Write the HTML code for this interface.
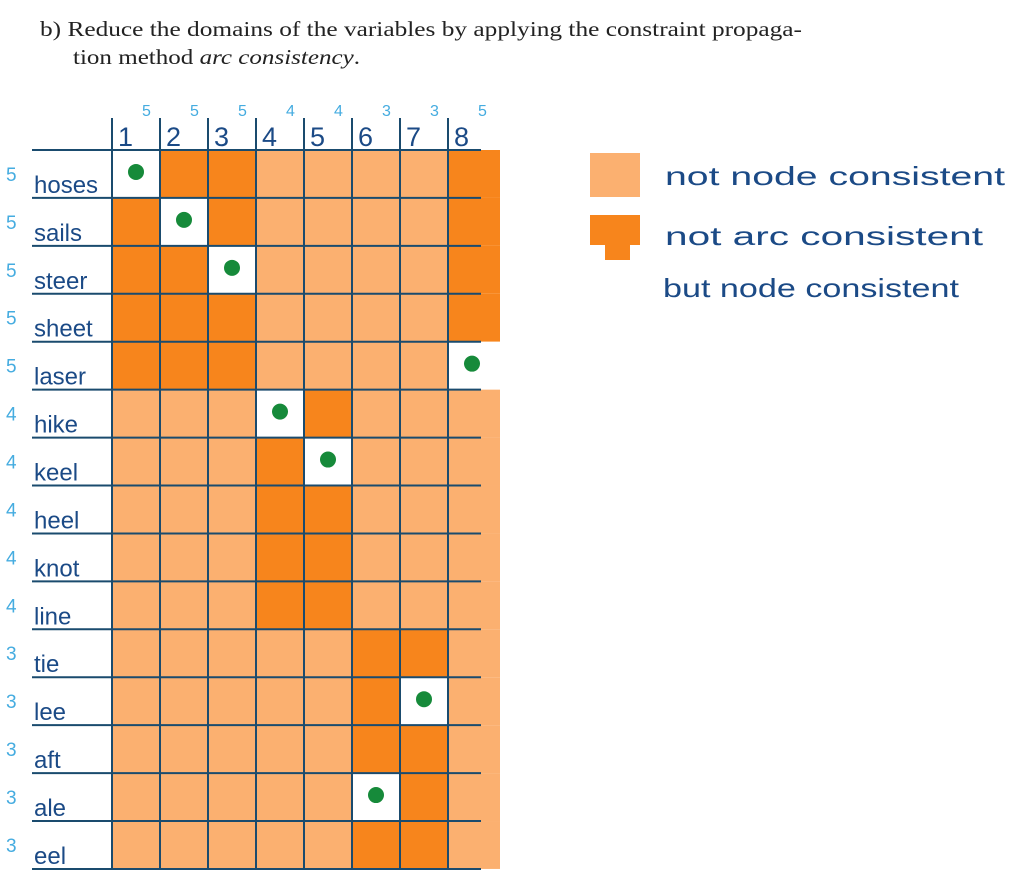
<!DOCTYPE html>
<html><head><meta charset="utf-8"><style>
html,body{margin:0;padding:0;background:#fff;}
svg{display:block;}
</style></head><body>
<svg id="chart" width="1013" height="887" viewBox="0 0 1013 887" xmlns="http://www.w3.org/2000/svg">
<text x="40" y="36" font-family="Liberation Serif, serif" font-size="21" fill="#222" textLength="762" lengthAdjust="spacingAndGlyphs">b) Reduce the domains of the variables by applying the constraint propaga-</text>
<text x="73" y="64" font-family="Liberation Serif, serif" font-size="21" fill="#222" textLength="287" lengthAdjust="spacingAndGlyphs">tion method <tspan font-style="italic">arc consistency</tspan>.</text>
<g id="grid"></g>
<g>
<rect x="590" y="153" width="50" height="44" fill="#fbb070"/>
<rect x="590" y="215" width="50" height="30" fill="#f7851c"/>
<rect x="605" y="240" width="25" height="20" fill="#f7851c"/>
<text x="665" y="185" font-family="Liberation Sans, sans-serif" font-size="26" fill="#1b4a86" textLength="340" lengthAdjust="spacingAndGlyphs">not  node    consistent</text>
<text x="665" y="245" font-family="Liberation Sans, sans-serif" font-size="26" fill="#1b4a86" textLength="318" lengthAdjust="spacingAndGlyphs">not   arc     consistent</text>
<text x="663" y="297" font-family="Liberation Sans, sans-serif" font-size="26" fill="#1b4a86" textLength="296" lengthAdjust="spacingAndGlyphs">but  node  consistent</text>
</g>
</svg>
<script>
const variables = ["hoses","sails","steer","sheet","laser","hike","keel","heel","knot","line","tie","lee","aft","ale","eel"];
const varSizes = [5,5,5,5,5,4,4,4,4,4,3,3,3,3,3];
const columns = ["1","2","3","4","5","6","7","8"];
const colSizes = [5,5,5,4,4,3,3,5];
// 0 = not node consistent, 1 = not arc consistent, 2 = solution (dot)
const states = [
 [2,1,1,0,0,0,0,1],
 [1,2,1,0,0,0,0,1],
 [1,1,2,0,0,0,0,1],
 [1,1,1,0,0,0,0,1],
 [1,1,1,0,0,0,0,2],
 [0,0,0,2,1,0,0,0],
 [0,0,0,1,2,0,0,0],
 [0,0,0,1,1,0,0,0],
 [0,0,0,1,1,0,0,0],
 [0,0,0,1,1,0,0,0],
 [0,0,0,0,0,1,1,0],
 [0,0,0,0,0,1,2,0],
 [0,0,0,0,0,1,1,0],
 [0,0,0,0,0,2,1,0],
 [0,0,0,0,0,1,1,0]
];
const NS="http://www.w3.org/2000/svg";
const g=document.getElementById('grid');
const x0=112, cw=48, y0=150, rh=47.93;
const xAt=i=>x0+i*cw, yAt=j=>y0+j*rh;
const fills=["#fbb070","#f7851c","#ffffff"];
function mk(t,a){const e=document.createElementNS(NS,t);for(const k in a)e.setAttribute(k,a[k]);g.appendChild(e);return e;}
states.forEach((row,j)=>row.forEach((s,i)=>{
  const w = i===columns.length-1 ? cw+4 : cw;
  const r=mk('rect',{x:xAt(i),y:yAt(j),width:w,height:rh,fill:fills[s]});
  
  
  if(s===2){
    const c=mk('circle',{cx:xAt(i)+cw/2,cy:yAt(j)+rh/2-2,r:8,fill:"#168a3a"});
    
    
  }
}));
for(let j=0;j<=variables.length;j++){
  const l=mk('line',{x1:32,x2:481,y1:yAt(j),y2:yAt(j),stroke:"#1a4b6e","stroke-width":2});
  
  
}
for(let i=0;i<columns.length;i++){
  const l=mk('line',{x1:xAt(i),x2:xAt(i),y1:118,y2:yAt(variables.length),stroke:"#1a4b6e","stroke-width":2});
  
  
}
columns.forEach((c,i)=>{
  const t=mk('text',{x:xAt(i)+6,y:146,"font-family":"Liberation Sans, sans-serif","font-size":27,fill:"#1b4a86"});
  t.textContent=c;
  
  
  const s=mk('text',{x:xAt(i)+30,y:116,"font-family":"Liberation Sans, sans-serif","font-size":16,fill:"#45ace0"});
  s.textContent=colSizes[i];
  
  
});
variables.forEach((v,j)=>{
  const t=mk('text',{x:34,y:yAt(j)+rh-5,"font-family":"Liberation Sans, sans-serif","font-size":24,fill:"#1b4a86"});
  t.textContent=v;
  
  
  const s=mk('text',{x:6,y:yAt(j)+rh-17,"font-family":"Liberation Sans, sans-serif","font-size":19,fill:"#45ace0"});
  s.textContent=varSizes[j];
  
  
});
</script>
</body></html>
